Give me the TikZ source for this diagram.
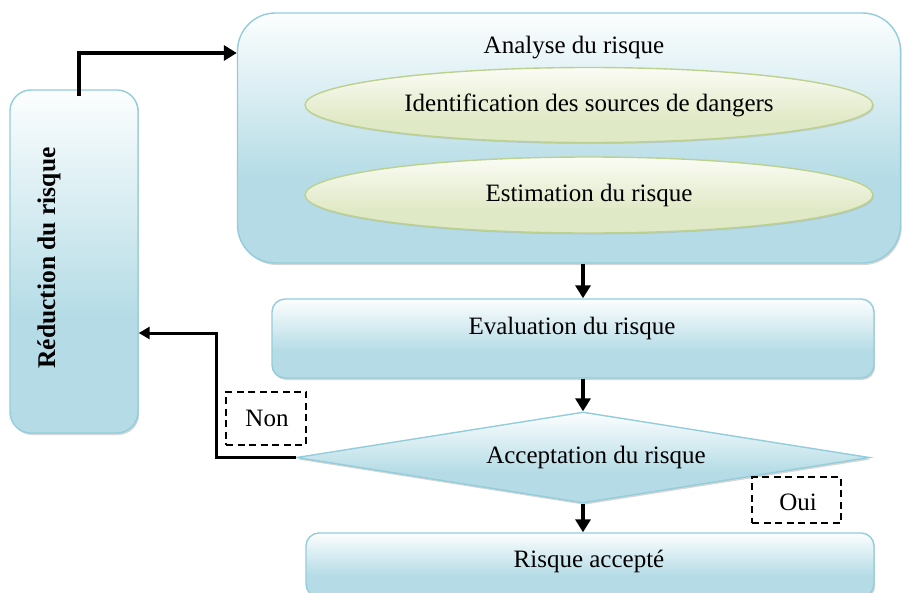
\documentclass[tikz,border=0pt]{standalone}
\usepackage{fontspec}
\setmainfont{Liberation Serif}
\usetikzlibrary{shapes.geometric,arrows.meta,shadows}

\definecolor{boxedge}{HTML}{93CDDB}
\definecolor{boxlow}{HTML}{B5DCE6}
\definecolor{boxhigh}{HTML}{FCFEFE}
\definecolor{ovaledge}{HTML}{BDD18E}
\definecolor{ovallow}{HTML}{E0E9C6}
\definecolor{ovalhigh}{HTML}{FBFCF5}

% light at the top, flat blue over the lower part
\pgfdeclareverticalshading{panelshade}{100bp}{color(0bp)=(boxlow); color(25bp)=(boxlow); color(42bp)=(boxlow); color(75bp)=(boxhigh); color(100bp)=(boxhigh)}
\pgfdeclareverticalshading{ovalshade}{100bp}{color(0bp)=(ovallow); color(25bp)=(ovallow); color(40bp)=(ovallow); color(75bp)=(ovalhigh); color(100bp)=(ovalhigh)}

\begin{document}
\begin{tikzpicture}[x=1pt,y=-1pt,
  txt/.style={font=\fontsize{25}{30}\selectfont, inner sep=0pt},
  panel/.style={draw=boxedge, line width=1.4pt, shading=panelshade, inner sep=0pt,
    drop shadow={opacity=0.35, shadow xshift=1.2pt, shadow yshift=-2pt, fill=black!45}},
  oval/.style={ellipse, draw=ovaledge, line width=1.4pt, shading=ovalshade, inner sep=0pt,
    font=\fontsize{25}{30}\selectfont,
    drop shadow={opacity=0.3, shadow xshift=1pt, shadow yshift=-1.5pt, fill=black!40}},
  tag/.style={draw, dashed, dash pattern=on 7pt off 4.5pt, line width=2pt, inner sep=0pt},
  flow/.style={line width=4.5pt, -{Triangle[length=13pt,width=15pt]}},
  back/.style={line width=3pt, -{Triangle[length=11pt,width=12pt]}}
]
\clip (0,0) rectangle (902,592);
\fill[white] (0,0) rectangle (902,592);

% analysis panel with its two steps
\node[panel, rounded corners=38pt, minimum width=663pt, minimum height=250pt] (ana) at (569,138) {};
\node[txt] (anatxt) at (574,48) {Analyse du risque};
\node[oval, minimum width=568pt, minimum height=75pt] (ident) at (589,105) {Identification des sources de dangers};
\node[oval, minimum width=568pt, minimum height=76pt] (estim) at (589,195) {Estimation du risque};

% side panel
\node[panel, rounded corners=21pt, minimum width=128pt, minimum height=343pt] (red) at (74,261.5) {};
\node[txt, font=\fontsize{25.5}{30}\selectfont\bfseries, rotate=90] (redtxt) at (49,258) {Réduction du risque};

% evaluation
\node[panel, rounded corners=13pt, minimum width=602pt, minimum height=79pt] (eval) at (573,338.5) {};
\node[txt] (evaltxt) at (572,328) {Evaluation du risque};

% decision
\node[diamond, panel, rounded corners=0pt, minimum width=573pt, minimum height=91pt, aspect=6.3] (dia) at (583,457.5) {};
\node[txt] (diatxt) at (596,457) {Acceptation du risque};

% outcome
\node[panel, rounded corners=13pt, minimum width=568pt, minimum height=64pt] (acc) at (590,565) {};
\node[txt] (acctxt) at (589,561) {Risque accepté};

% answer tags
\node[tag, minimum width=80pt, minimum height=53pt] (non) at (266,418) {};
\node[txt] at (267,418) {Non};
\node[tag, minimum width=89pt, minimum height=46pt] (oui) at (796.5,500) {};
\node[txt] at (798,502) {Oui};

% connectors
\draw[flow] ([xshift=5pt,yshift=-7pt]red.north) |- ([yshift=85pt]ana.west);
\draw[flow] (ana.south -| dia.north) -- (eval.north -| dia.north);
\draw[flow] (eval.south -| dia.north) -- (dia.north);
\draw[flow] (dia.south) -- (acc.north -| dia.south);
\draw[back] (dia.west) -- ++(-79,0) |- ([yshift=-71.5pt]red.east);
\end{tikzpicture}
\end{document}
